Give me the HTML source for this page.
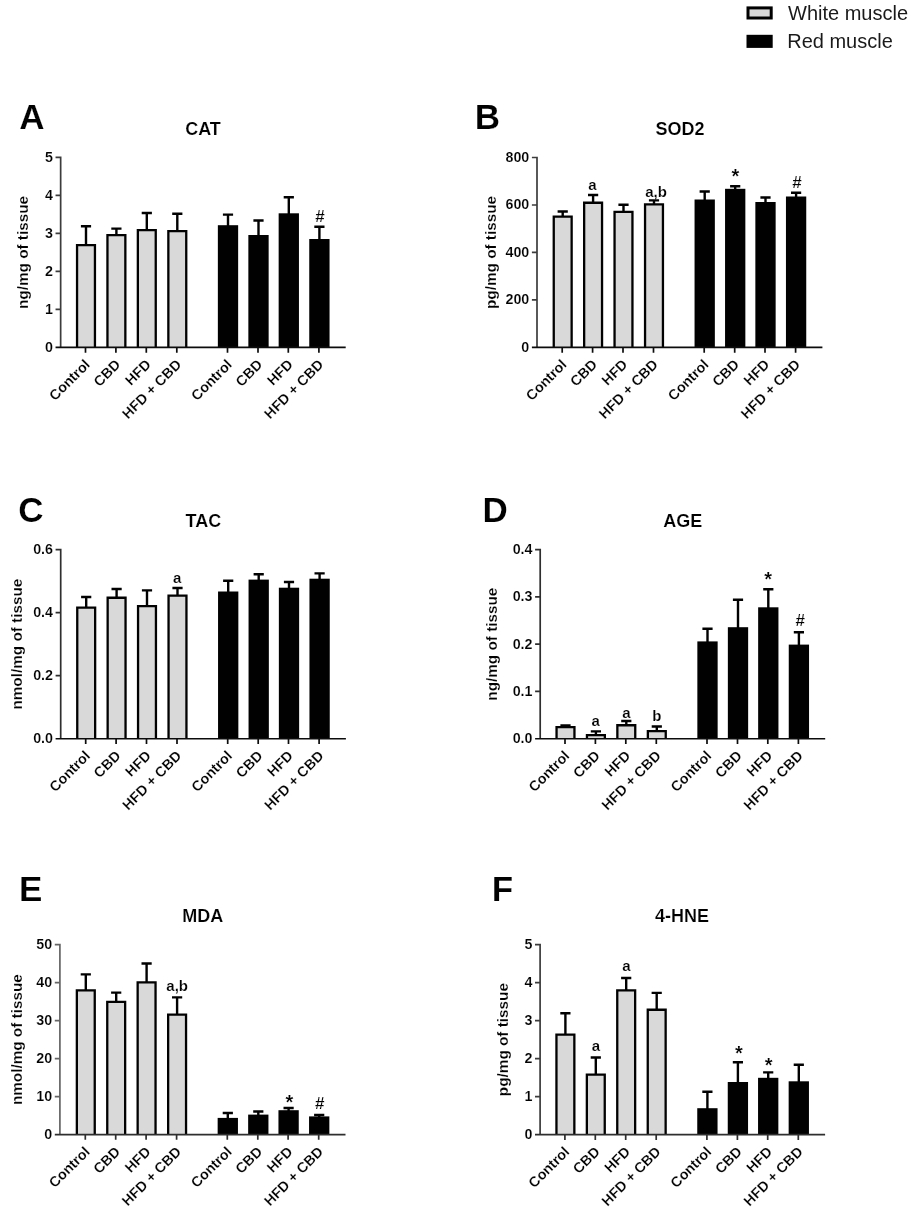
<!DOCTYPE html>
<html lang="en">
<head>
<meta charset="utf-8">
<title>Figure</title>
<style>
html,body{margin:0;padding:0;background:#fff;}
body{width:914px;height:1217px;overflow:hidden;font-family:"Liberation Sans", sans-serif;}
svg{display:block;font-family:"Liberation Sans", sans-serif;}
svg text{font-family:"Liberation Sans", sans-serif;}
svg .b text, svg text.b{stroke:#fff;stroke-width:0.16px;}
</style>
</head>
<body>

<svg width="914" height="1217" viewBox="0 0 914 1217">
<rect width="914" height="1217" fill="#fff"/>
<g opacity="0.999">
<rect x="748" y="7.9" width="23.2" height="10.1" fill="#d9d9d9" stroke="#000" stroke-width="3"/>
<rect x="746.5" y="34.8" width="26.2" height="13.1" fill="#000"/>
<g font-size="20" fill="#1a1a1a">
<text x="788" y="19.5">White muscle</text>
<text x="787.2" y="47.9">Red muscle</text>
</g>
<g class="b">
<path d="M86 244.9V226.2M80.9 226.2H91.1" stroke="#000" stroke-width="2.4" fill="none"/>
<path d="M77.05 347.47V245.05H94.95V347.47" fill="#d9d9d9" stroke="#000" stroke-width="2.3"/>
<path d="M116.4 234.9V228.6M111.3 228.6H121.5" stroke="#000" stroke-width="2.4" fill="none"/>
<path d="M107.45 347.47V235.05H125.35V347.47" fill="#d9d9d9" stroke="#000" stroke-width="2.3"/>
<path d="M146.8 230V213M141.7 213H151.9" stroke="#000" stroke-width="2.4" fill="none"/>
<path d="M137.85 347.47V230.15H155.75V347.47" fill="#d9d9d9" stroke="#000" stroke-width="2.3"/>
<path d="M177.3 230.9V213.7M172.2 213.7H182.4" stroke="#000" stroke-width="2.4" fill="none"/>
<path d="M168.35 347.47V231.05H186.25V347.47" fill="#d9d9d9" stroke="#000" stroke-width="2.3"/>
<path d="M228 226.2V214.6M222.9 214.6H233.1" stroke="#000" stroke-width="2.4" fill="none"/>
<rect x="217.85" y="225.2" width="20.3" height="122.27" fill="#000"/>
<path d="M258.5 236V220.5M253.4 220.5H263.6" stroke="#000" stroke-width="2.4" fill="none"/>
<rect x="248.35" y="235" width="20.3" height="112.47" fill="#000"/>
<path d="M288.8 214.3V197.3M283.7 197.3H293.9" stroke="#000" stroke-width="2.4" fill="none"/>
<rect x="278.65" y="213.3" width="20.3" height="134.17" fill="#000"/>
<path d="M319.4 240V226.7M314.3 226.7H324.5" stroke="#000" stroke-width="2.4" fill="none"/>
<rect x="309.25" y="239" width="20.3" height="108.47" fill="#000"/>
<path d="M60.65 156.6V347.47M55.55 157.45H60.65M55.55 195.45H60.65M55.55 233.46H60.65M55.55 271.46H60.65M55.55 309.47H60.65" stroke="#3c3c3c" stroke-width="1.7" fill="none"/>
<path d="M55.55 347.47H345.7M85.5 347.47V352.67M115.9 347.47V352.67M146.3 347.47V352.67M176.8 347.47V352.67M227.5 347.47V352.67M258 347.47V352.67M288.3 347.47V352.67M318.9 347.47V352.67" stroke="#0c0c0c" stroke-width="1.7" fill="none"/>
<g font-size="14.3" font-weight="bold" text-anchor="end" fill="#000">
<text x="52.95" y="161.95">5</text>
<text x="52.95" y="199.95">4</text>
<text x="52.95" y="237.96">3</text>
<text x="52.95" y="275.96">2</text>
<text x="52.95" y="313.97">1</text>
<text x="52.95" y="351.97">0</text>
</g>
<g font-size="14.3" font-weight="bold" text-anchor="end" fill="#000">
<text transform="translate(90.9 365.47) rotate(-45)">Control</text>
<text transform="translate(121.3 365.47) rotate(-45)">CBD</text>
<text transform="translate(151.7 365.47) rotate(-45)">HFD</text>
<text transform="translate(182.2 365.47) rotate(-45)">HFD + CBD</text>
<text transform="translate(232.9 365.47) rotate(-45)">Control</text>
<text transform="translate(263.4 365.47) rotate(-45)">CBD</text>
<text transform="translate(293.7 365.47) rotate(-45)">HFD</text>
<text transform="translate(324.3 365.47) rotate(-45)">HFD + CBD</text>
</g>
<text transform="translate(28.2 252.46) rotate(-90)" font-size="15.3" font-weight="bold" text-anchor="middle" fill="#000">ng/mg of tissue</text>
<text x="203" y="135" font-size="18" font-weight="bold" text-anchor="middle" fill="#000">CAT</text>
<text x="19.3" y="129.3" font-size="35" font-weight="bold" fill="#000">A</text>
<g font-size="15" font-weight="bold" text-anchor="middle" fill="#000">
<text x="320" y="221.5" font-size="17">#</text>
</g>
</g>
<g class="b">
<path d="M562.7 216.4V211.5M557.6 211.5H567.8" stroke="#000" stroke-width="2.4" fill="none"/>
<path d="M553.75 347.45V216.55H571.65V347.45" fill="#d9d9d9" stroke="#000" stroke-width="2.3"/>
<path d="M593.1 202.6V195M588 195H598.2" stroke="#000" stroke-width="2.4" fill="none"/>
<path d="M584.15 347.45V202.75H602.05V347.45" fill="#d9d9d9" stroke="#000" stroke-width="2.3"/>
<path d="M623.5 211.8V204.7M618.4 204.7H628.6" stroke="#000" stroke-width="2.4" fill="none"/>
<path d="M614.55 347.45V211.95H632.45V347.45" fill="#d9d9d9" stroke="#000" stroke-width="2.3"/>
<path d="M654 204.2V200.4M648.9 200.4H659.1" stroke="#000" stroke-width="2.4" fill="none"/>
<path d="M645.05 347.45V204.35H662.95V347.45" fill="#d9d9d9" stroke="#000" stroke-width="2.3"/>
<path d="M704.7 200.5V191.5M699.6 191.5H709.8" stroke="#000" stroke-width="2.4" fill="none"/>
<rect x="694.55" y="199.5" width="20.3" height="147.95" fill="#000"/>
<path d="M735.2 189.8V186.3M730.1 186.3H740.3" stroke="#000" stroke-width="2.4" fill="none"/>
<rect x="725.05" y="188.8" width="20.3" height="158.65" fill="#000"/>
<path d="M765.5 203V197.5M760.4 197.5H770.6" stroke="#000" stroke-width="2.4" fill="none"/>
<rect x="755.35" y="202" width="20.3" height="145.45" fill="#000"/>
<path d="M796.1 197.5V192.8M791 192.8H801.2" stroke="#000" stroke-width="2.4" fill="none"/>
<rect x="785.95" y="196.5" width="20.3" height="150.95" fill="#000"/>
<path d="M537 156.65V347.45M531.9 157.5H537M531.9 204.99H537M531.9 252.47H537M531.9 299.96H537" stroke="#3c3c3c" stroke-width="1.7" fill="none"/>
<path d="M531.9 347.45H822.4M562.2 347.45V352.65M592.6 347.45V352.65M623 347.45V352.65M653.5 347.45V352.65M704.2 347.45V352.65M734.7 347.45V352.65M765 347.45V352.65M795.6 347.45V352.65" stroke="#0c0c0c" stroke-width="1.7" fill="none"/>
<g font-size="14.3" font-weight="bold" text-anchor="end" fill="#000">
<text x="529.3" y="162">800</text>
<text x="529.3" y="209.49">600</text>
<text x="529.3" y="256.98">400</text>
<text x="529.3" y="304.46">200</text>
<text x="529.3" y="351.95">0</text>
</g>
<g font-size="14.3" font-weight="bold" text-anchor="end" fill="#000">
<text transform="translate(567.6 365.45) rotate(-45)">Control</text>
<text transform="translate(598 365.45) rotate(-45)">CBD</text>
<text transform="translate(628.4 365.45) rotate(-45)">HFD</text>
<text transform="translate(658.9 365.45) rotate(-45)">HFD + CBD</text>
<text transform="translate(709.6 365.45) rotate(-45)">Control</text>
<text transform="translate(740.1 365.45) rotate(-45)">CBD</text>
<text transform="translate(770.4 365.45) rotate(-45)">HFD</text>
<text transform="translate(801 365.45) rotate(-45)">HFD + CBD</text>
</g>
<text transform="translate(495.8 252.47) rotate(-90)" font-size="15.3" font-weight="bold" text-anchor="middle" fill="#000">pg/mg of tissue</text>
<text x="680" y="135" font-size="18" font-weight="bold" text-anchor="middle" fill="#000">SOD2</text>
<text x="474.7" y="128.9" font-size="35" font-weight="bold" fill="#000">B</text>
<g font-size="15" font-weight="bold" text-anchor="middle" fill="#000">
<text x="592.4" y="189.9">a</text>
<text x="656" y="196.8">a,b</text>
<text x="735.5" y="182.5" font-size="20">*</text>
<text x="797" y="187.9" font-size="17">#</text>
</g>
</g>
<g class="b">
<path d="M86.2 607.4V597M81.1 597H91.3" stroke="#000" stroke-width="2.4" fill="none"/>
<path d="M77.25 738.75V607.55H95.15V738.75" fill="#d9d9d9" stroke="#000" stroke-width="2.3"/>
<path d="M116.6 597.6V589M111.5 589H121.7" stroke="#000" stroke-width="2.4" fill="none"/>
<path d="M107.65 738.75V597.75H125.55V738.75" fill="#d9d9d9" stroke="#000" stroke-width="2.3"/>
<path d="M147 606V590.4M141.9 590.4H152.1" stroke="#000" stroke-width="2.4" fill="none"/>
<path d="M138.05 738.75V606.15H155.95V738.75" fill="#d9d9d9" stroke="#000" stroke-width="2.3"/>
<path d="M177.5 595.5V588M172.4 588H182.6" stroke="#000" stroke-width="2.4" fill="none"/>
<path d="M168.55 738.75V595.65H186.45V738.75" fill="#d9d9d9" stroke="#000" stroke-width="2.3"/>
<path d="M228.2 592.5V580.8M223.1 580.8H233.3" stroke="#000" stroke-width="2.4" fill="none"/>
<rect x="218.05" y="591.5" width="20.3" height="147.25" fill="#000"/>
<path d="M258.7 580.6V574.3M253.6 574.3H263.8" stroke="#000" stroke-width="2.4" fill="none"/>
<rect x="248.55" y="579.6" width="20.3" height="159.15" fill="#000"/>
<path d="M289 588.7V582M283.9 582H294.1" stroke="#000" stroke-width="2.4" fill="none"/>
<rect x="278.85" y="587.7" width="20.3" height="151.05" fill="#000"/>
<path d="M319.6 579.7V573.4M314.5 573.4H324.7" stroke="#000" stroke-width="2.4" fill="none"/>
<rect x="309.45" y="578.7" width="20.3" height="160.05" fill="#000"/>
<path d="M60.7 548.7V738.75M55.6 549.55H60.7M55.6 612.62H60.7M55.6 675.68H60.7" stroke="#2e2e2e" stroke-width="1.7" fill="none"/>
<path d="M55.6 738.75H345.9M85.7 738.75V743.95M116.1 738.75V743.95M146.5 738.75V743.95M177 738.75V743.95M227.7 738.75V743.95M258.2 738.75V743.95M288.5 738.75V743.95M319.1 738.75V743.95" stroke="#0c0c0c" stroke-width="1.7" fill="none"/>
<g font-size="14.3" font-weight="bold" text-anchor="end" fill="#000">
<text x="53" y="554.05">0.6</text>
<text x="53" y="617.12">0.4</text>
<text x="53" y="680.18">0.2</text>
<text x="53" y="743.25">0.0</text>
</g>
<g font-size="14.3" font-weight="bold" text-anchor="end" fill="#000">
<text transform="translate(91.1 756.75) rotate(-45)">Control</text>
<text transform="translate(121.5 756.75) rotate(-45)">CBD</text>
<text transform="translate(151.9 756.75) rotate(-45)">HFD</text>
<text transform="translate(182.4 756.75) rotate(-45)">HFD + CBD</text>
<text transform="translate(233.1 756.75) rotate(-45)">Control</text>
<text transform="translate(263.6 756.75) rotate(-45)">CBD</text>
<text transform="translate(293.9 756.75) rotate(-45)">HFD</text>
<text transform="translate(324.5 756.75) rotate(-45)">HFD + CBD</text>
</g>
<text transform="translate(21.6 644.15) rotate(-90)" font-size="15.3" font-weight="bold" text-anchor="middle" fill="#000">nmol/mg of tissue</text>
<text x="203.4" y="527" font-size="18" font-weight="bold" text-anchor="middle" fill="#000">TAC</text>
<text x="18.3" y="522.2" font-size="35" font-weight="bold" fill="#000">C</text>
<g font-size="15" font-weight="bold" text-anchor="middle" fill="#000">
<text x="177.2" y="582.9">a</text>
</g>
</g>
<g class="b">
<path d="M565.5 726.9V725.5M560.4 725.5H570.6" stroke="#000" stroke-width="2.4" fill="none"/>
<path d="M556.55 738.75V727.05H574.45V738.75" fill="#d9d9d9" stroke="#000" stroke-width="2.3"/>
<path d="M595.9 734.9V731.4M590.8 731.4H601" stroke="#000" stroke-width="2.4" fill="none"/>
<path d="M586.95 738.75V735.05H604.85V738.75" fill="#d9d9d9" stroke="#000" stroke-width="2.3"/>
<path d="M626.3 725.1V721M621.2 721H631.4" stroke="#000" stroke-width="2.4" fill="none"/>
<path d="M617.35 738.75V725.25H635.25V738.75" fill="#d9d9d9" stroke="#000" stroke-width="2.3"/>
<path d="M656.8 730.9V726.5M651.7 726.5H661.9" stroke="#000" stroke-width="2.4" fill="none"/>
<path d="M647.85 738.75V731.05H665.75V738.75" fill="#d9d9d9" stroke="#000" stroke-width="2.3"/>
<path d="M707.5 642.4V628.8M702.4 628.8H712.6" stroke="#000" stroke-width="2.4" fill="none"/>
<rect x="697.35" y="641.4" width="20.3" height="97.35" fill="#000"/>
<path d="M738 628.2V599.7M732.9 599.7H743.1" stroke="#000" stroke-width="2.4" fill="none"/>
<rect x="727.85" y="627.2" width="20.3" height="111.55" fill="#000"/>
<path d="M768.3 608.3V589.2M763.2 589.2H773.4" stroke="#000" stroke-width="2.4" fill="none"/>
<rect x="758.15" y="607.3" width="20.3" height="131.45" fill="#000"/>
<path d="M798.9 645.6V632.3M793.8 632.3H804" stroke="#000" stroke-width="2.4" fill="none"/>
<rect x="788.75" y="644.6" width="20.3" height="94.15" fill="#000"/>
<path d="M540.2 548.75V738.75M535.1 549.6H540.2M535.1 596.89H540.2M535.1 644.17H540.2M535.1 691.46H540.2" stroke="#2e2e2e" stroke-width="1.7" fill="none"/>
<path d="M535.1 738.75H825.2M565 738.75V743.95M595.4 738.75V743.95M625.8 738.75V743.95M656.3 738.75V743.95M707 738.75V743.95M737.5 738.75V743.95M767.8 738.75V743.95M798.4 738.75V743.95" stroke="#0c0c0c" stroke-width="1.7" fill="none"/>
<g font-size="14.3" font-weight="bold" text-anchor="end" fill="#000">
<text x="532.5" y="554.1">0.4</text>
<text x="532.5" y="601.39">0.3</text>
<text x="532.5" y="648.67">0.2</text>
<text x="532.5" y="695.96">0.1</text>
<text x="532.5" y="743.25">0.0</text>
</g>
<g font-size="14.3" font-weight="bold" text-anchor="end" fill="#000">
<text transform="translate(570.4 756.75) rotate(-45)">Control</text>
<text transform="translate(600.8 756.75) rotate(-45)">CBD</text>
<text transform="translate(631.2 756.75) rotate(-45)">HFD</text>
<text transform="translate(661.7 756.75) rotate(-45)">HFD + CBD</text>
<text transform="translate(712.4 756.75) rotate(-45)">Control</text>
<text transform="translate(742.9 756.75) rotate(-45)">CBD</text>
<text transform="translate(773.2 756.75) rotate(-45)">HFD</text>
<text transform="translate(803.8 756.75) rotate(-45)">HFD + CBD</text>
</g>
<text transform="translate(497.4 644.17) rotate(-90)" font-size="15.3" font-weight="bold" text-anchor="middle" fill="#000">ng/mg of tissue</text>
<text x="682.7" y="526.8" font-size="18" font-weight="bold" text-anchor="middle" fill="#000">AGE</text>
<text x="482.4" y="522" font-size="35" font-weight="bold" fill="#000">D</text>
<g font-size="15" font-weight="bold" text-anchor="middle" fill="#000">
<text x="595.6" y="726.4">a</text>
<text x="626.5" y="717.6">a</text>
<text x="656.9" y="721.1">b</text>
<text x="768.2" y="585.8" font-size="20">*</text>
<text x="800.3" y="626.2" font-size="17">#</text>
</g>
</g>
<g class="b">
<path d="M85.8 990.2V974.4M80.7 974.4H90.9" stroke="#000" stroke-width="2.4" fill="none"/>
<path d="M76.85 1134.65V990.35H94.75V1134.65" fill="#d9d9d9" stroke="#000" stroke-width="2.3"/>
<path d="M116.2 1001.7V992.6M111.1 992.6H121.3" stroke="#000" stroke-width="2.4" fill="none"/>
<path d="M107.25 1134.65V1001.85H125.15V1134.65" fill="#d9d9d9" stroke="#000" stroke-width="2.3"/>
<path d="M146.6 982.2V963.5M141.5 963.5H151.7" stroke="#000" stroke-width="2.4" fill="none"/>
<path d="M137.65 1134.65V982.35H155.55V1134.65" fill="#d9d9d9" stroke="#000" stroke-width="2.3"/>
<path d="M177.1 1014.4V997.4M172 997.4H182.2" stroke="#000" stroke-width="2.4" fill="none"/>
<path d="M168.15 1134.65V1014.55H186.05V1134.65" fill="#d9d9d9" stroke="#000" stroke-width="2.3"/>
<path d="M227.8 1118.9V1113M222.7 1113H232.9" stroke="#000" stroke-width="2.4" fill="none"/>
<rect x="217.65" y="1117.9" width="20.3" height="16.75" fill="#000"/>
<path d="M258.3 1115.6V1111.5M253.2 1111.5H263.4" stroke="#000" stroke-width="2.4" fill="none"/>
<rect x="248.15" y="1114.6" width="20.3" height="20.05" fill="#000"/>
<path d="M288.6 1111.2V1108M283.5 1108H293.7" stroke="#000" stroke-width="2.4" fill="none"/>
<rect x="278.45" y="1110.2" width="20.3" height="24.45" fill="#000"/>
<path d="M319.2 1117.4V1115M314.1 1115H324.3" stroke="#000" stroke-width="2.4" fill="none"/>
<rect x="309.05" y="1116.4" width="20.3" height="18.25" fill="#000"/>
<path d="M59.9 943.85V1134.65M54.8 944.7H59.9M54.8 982.69H59.9M54.8 1020.68H59.9M54.8 1058.67H59.9M54.8 1096.66H59.9" stroke="#666" stroke-width="1.7" fill="none"/>
<path d="M54.8 1134.65H345.5M85.3 1134.65V1139.85M115.7 1134.65V1139.85M146.1 1134.65V1139.85M176.6 1134.65V1139.85M227.3 1134.65V1139.85M257.8 1134.65V1139.85M288.1 1134.65V1139.85M318.7 1134.65V1139.85" stroke="#2e2e2e" stroke-width="1.7" fill="none"/>
<g font-size="14.3" font-weight="bold" text-anchor="end" fill="#000">
<text x="52.2" y="949.2">50</text>
<text x="52.2" y="987.19">40</text>
<text x="52.2" y="1025.18">30</text>
<text x="52.2" y="1063.17">20</text>
<text x="52.2" y="1101.16">10</text>
<text x="52.2" y="1139.15">0</text>
</g>
<g font-size="14.3" font-weight="bold" text-anchor="end" fill="#000">
<text transform="translate(90.7 1152.65) rotate(-45)">Control</text>
<text transform="translate(121.1 1152.65) rotate(-45)">CBD</text>
<text transform="translate(151.5 1152.65) rotate(-45)">HFD</text>
<text transform="translate(182 1152.65) rotate(-45)">HFD + CBD</text>
<text transform="translate(232.7 1152.65) rotate(-45)">Control</text>
<text transform="translate(263.2 1152.65) rotate(-45)">CBD</text>
<text transform="translate(293.5 1152.65) rotate(-45)">HFD</text>
<text transform="translate(324.1 1152.65) rotate(-45)">HFD + CBD</text>
</g>
<text transform="translate(22.4 1039.68) rotate(-90)" font-size="15.3" font-weight="bold" text-anchor="middle" fill="#000">nmol/mg of tissue</text>
<text x="202.7" y="922.1" font-size="18" font-weight="bold" text-anchor="middle" fill="#000">MDA</text>
<text x="18.9" y="901.3" font-size="35" font-weight="bold" fill="#000">E</text>
<g font-size="15" font-weight="bold" text-anchor="middle" fill="#000">
<text x="177.2" y="991.1">a,b</text>
<text x="289.3" y="1108.9" font-size="20">*</text>
<text x="319.7" y="1109" font-size="17">#</text>
</g>
</g>
<g class="b">
<path d="M565.4 1034.4V1013.3M560.3 1013.3H570.5" stroke="#000" stroke-width="2.4" fill="none"/>
<path d="M556.45 1134.7V1034.55H574.35V1134.7" fill="#d9d9d9" stroke="#000" stroke-width="2.3"/>
<path d="M595.8 1074.5V1057.5M590.7 1057.5H600.9" stroke="#000" stroke-width="2.4" fill="none"/>
<path d="M586.85 1134.7V1074.65H604.75V1134.7" fill="#d9d9d9" stroke="#000" stroke-width="2.3"/>
<path d="M626.2 990.2V978M621.1 978H631.3" stroke="#000" stroke-width="2.4" fill="none"/>
<path d="M617.25 1134.7V990.35H635.15V1134.7" fill="#d9d9d9" stroke="#000" stroke-width="2.3"/>
<path d="M656.7 1009.6V992.9M651.6 992.9H661.8" stroke="#000" stroke-width="2.4" fill="none"/>
<path d="M647.75 1134.7V1009.75H665.65V1134.7" fill="#d9d9d9" stroke="#000" stroke-width="2.3"/>
<path d="M707.4 1109.2V1091.7M702.3 1091.7H712.5" stroke="#000" stroke-width="2.4" fill="none"/>
<rect x="697.25" y="1108.2" width="20.3" height="26.5" fill="#000"/>
<path d="M737.9 1083V1062.3M732.8 1062.3H743" stroke="#000" stroke-width="2.4" fill="none"/>
<rect x="727.75" y="1082" width="20.3" height="52.7" fill="#000"/>
<path d="M768.2 1078.8V1072.4M763.1 1072.4H773.3" stroke="#000" stroke-width="2.4" fill="none"/>
<rect x="758.05" y="1077.8" width="20.3" height="56.9" fill="#000"/>
<path d="M798.8 1082.3V1064.7M793.7 1064.7H803.9" stroke="#000" stroke-width="2.4" fill="none"/>
<rect x="788.65" y="1081.3" width="20.3" height="53.4" fill="#000"/>
<path d="M540.1 943.7V1134.7M535 944.55H540.1M535 982.58H540.1M535 1020.61H540.1M535 1058.64H540.1M535 1096.67H540.1" stroke="#3c3c3c" stroke-width="1.7" fill="none"/>
<path d="M535 1134.7H825.1M564.9 1134.7V1139.9M595.3 1134.7V1139.9M625.7 1134.7V1139.9M656.2 1134.7V1139.9M706.9 1134.7V1139.9M737.4 1134.7V1139.9M767.7 1134.7V1139.9M798.3 1134.7V1139.9" stroke="#2e2e2e" stroke-width="1.7" fill="none"/>
<g font-size="14.3" font-weight="bold" text-anchor="end" fill="#000">
<text x="532.4" y="949.05">5</text>
<text x="532.4" y="987.08">4</text>
<text x="532.4" y="1025.11">3</text>
<text x="532.4" y="1063.14">2</text>
<text x="532.4" y="1101.17">1</text>
<text x="532.4" y="1139.2">0</text>
</g>
<g font-size="14.3" font-weight="bold" text-anchor="end" fill="#000">
<text transform="translate(570.3 1152.7) rotate(-45)">Control</text>
<text transform="translate(600.7 1152.7) rotate(-45)">CBD</text>
<text transform="translate(631.1 1152.7) rotate(-45)">HFD</text>
<text transform="translate(661.6 1152.7) rotate(-45)">HFD + CBD</text>
<text transform="translate(712.3 1152.7) rotate(-45)">Control</text>
<text transform="translate(742.8 1152.7) rotate(-45)">CBD</text>
<text transform="translate(773.1 1152.7) rotate(-45)">HFD</text>
<text transform="translate(803.7 1152.7) rotate(-45)">HFD + CBD</text>
</g>
<text transform="translate(508.4 1039.62) rotate(-90)" font-size="15.3" font-weight="bold" text-anchor="middle" fill="#000">pg/mg of tissue</text>
<text x="682" y="922" font-size="18" font-weight="bold" text-anchor="middle" fill="#000">4-HNE</text>
<text x="491.8" y="901.3" font-size="35" font-weight="bold" fill="#000">F</text>
<g font-size="15" font-weight="bold" text-anchor="middle" fill="#000">
<text x="596" y="1050.6">a</text>
<text x="626.5" y="970.8">a</text>
<text x="739" y="1059.6" font-size="20">*</text>
<text x="768.6" y="1071.9" font-size="20">*</text>
</g>
</g>
</g>
</svg>
</body>
</html>
